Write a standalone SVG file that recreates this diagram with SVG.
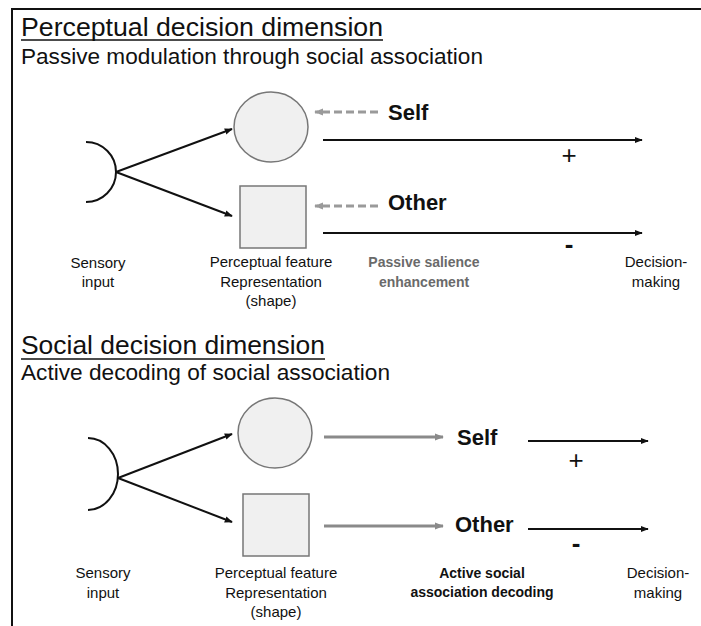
<svg xmlns="http://www.w3.org/2000/svg" width="701" height="626" viewBox="0 0 701 626">
<style>
text{font-family:"Liberation Sans",Arial,sans-serif;fill:#111}
.title{font-size:26.5px}
.sub{font-size:22.5px}
.lbl{font-size:15px;text-anchor:middle}
.bold{font-weight:bold}
.big{font-size:22px;font-weight:bold}
.sign{font-size:26px;text-anchor:middle}
.shape{fill:#f0f0f0;stroke:#777;stroke-width:1.5}
.blk{stroke:#111;stroke-width:2;fill:none}
.gray{stroke:#8a8a8a;stroke-width:3;fill:none}
.dash{stroke:#9a9a9a;stroke-width:3;stroke-dasharray:8,4;fill:none}
</style>
<defs>
<marker id="ab" viewBox="0 0 10 10" refX="9" refY="5" markerWidth="4" markerHeight="4" orient="auto" markerUnits="strokeWidth"><path d="M0,1 L10,5 L0,9 z" fill="#111"/></marker>
<marker id="ag" viewBox="0 0 10 10" refX="9" refY="5" markerWidth="3" markerHeight="3" orient="auto" markerUnits="strokeWidth"><path d="M0,1 L10,5 L0,9 z" fill="#8a8a8a"/></marker>
<marker id="ad" viewBox="0 0 10 10" refX="9" refY="5" markerWidth="3" markerHeight="3" orient="auto" markerUnits="strokeWidth"><path d="M0,1 L10,5 L0,9 z" fill="#9a9a9a"/></marker>
</defs>
<rect width="701" height="626" fill="#fff"/>
<path d="M12,626 V9 H701" stroke="#111" stroke-width="2" fill="none"/>

<g id="section1-titles">
<text class="title" x="21" y="36" textLength="362" lengthAdjust="spacingAndGlyphs">Perceptual decision dimension</text>
<line x1="21" y1="40" x2="383" y2="40" stroke="#111" stroke-width="1.5"/>
<text class="sub" x="21" y="64" textLength="462" lengthAdjust="spacingAndGlyphs">Passive modulation through social association</text>
</g>

<g id="s1-sensory"><path class="blk" d="M86,142 A30,30 0 0 1 86,202"/>
<text class="lbl" x="98" y="268">Sensory</text><text class="lbl" x="98" y="287">input</text></g>
<g id="s1-circle"><ellipse class="shape" cx="271" cy="127" rx="37" ry="35"/></g>
<g id="s1-square"><rect class="shape" x="240" y="186" width="66" height="62"/></g>
<g id="s1-feature-label"><text class="lbl" x="271" y="267">Perceptual feature</text><text class="lbl" x="271" y="287">Representation</text><text class="lbl" x="271" y="306">(shape)</text></g>
<g id="s1-self"><text class="big" x="388" y="120">Self</text></g>
<g id="s1-other"><text class="big" x="388" y="210">Other</text></g>
<g id="s1-passive"><text class="lbl bold" x="424" y="267" style="fill:#6a6a6a;font-size:14px">Passive salience</text><text class="lbl bold" x="424" y="287" style="fill:#6a6a6a;font-size:14px">enhancement</text></g>
<g id="s1-decision"><text class="lbl" x="656" y="267">Decision-</text><text class="lbl" x="656" y="287">making</text></g>
<g id="s1-signs"><text class="sign" x="569" y="164">+</text><text class="sign bold" x="569" y="253">-</text></g>

<g id="section2-titles">
<text class="title" x="21" y="354" textLength="304" lengthAdjust="spacingAndGlyphs">Social decision dimension</text>
<line x1="21" y1="359" x2="325" y2="359" stroke="#111" stroke-width="1.5"/>
<text class="sub" x="21" y="380" textLength="369" lengthAdjust="spacingAndGlyphs">Active decoding of social association</text>
</g>

<g id="s2-sensory"><path class="blk" d="M88,438 A30,36 0 0 1 88,510"/>
<text class="lbl" x="103" y="578">Sensory</text><text class="lbl" x="103" y="598">input</text></g>
<g id="s2-circle"><ellipse class="shape" cx="275" cy="433" rx="37" ry="35"/></g>
<g id="s2-square"><rect class="shape" x="243" y="494" width="66" height="62"/></g>
<g id="s2-feature-label"><text class="lbl" x="276" y="578">Perceptual feature</text><text class="lbl" x="276" y="598">Representation</text><text class="lbl" x="276" y="617">(shape)</text></g>
<g id="s2-self"><text class="big" x="457" y="445">Self</text></g>
<g id="s2-other"><text class="big" x="455" y="532">Other</text></g>
<g id="s2-active"><text class="lbl bold" x="482" y="578" style="font-size:14px">Active social</text><text class="lbl bold" x="482" y="597" style="font-size:14px">association decoding</text></g>
<g id="s2-decision"><text class="lbl" x="658" y="578">Decision-</text><text class="lbl" x="658" y="598">making</text></g>
<g id="s2-signs"><text class="sign" x="576" y="469">+</text><text class="sign bold" x="576" y="552">-</text></g>

<g id="connectors">
<line class="blk" x1="116" y1="172" x2="232" y2="129" marker-end="url(#ab)"/>
<line class="blk" x1="116" y1="172" x2="232" y2="216" marker-end="url(#ab)"/>
<line class="dash" x1="378" y1="112" x2="315" y2="112" marker-end="url(#ad)"/>
<line class="dash" x1="378" y1="206" x2="315" y2="206" marker-end="url(#ad)"/>
<line class="blk" x1="323" y1="140" x2="642" y2="140" marker-end="url(#ab)"/>
<line class="blk" x1="323" y1="233" x2="642" y2="233" marker-end="url(#ab)"/>

<line class="blk" x1="118" y1="478" x2="232" y2="434" marker-end="url(#ab)"/>
<line class="blk" x1="118" y1="478" x2="232" y2="522" marker-end="url(#ab)"/>
<line class="gray" x1="324" y1="437" x2="443" y2="437" marker-end="url(#ag)"/>
<line class="gray" x1="324" y1="526" x2="443" y2="526" marker-end="url(#ag)"/>
<line class="blk" x1="528" y1="441" x2="648" y2="441" marker-end="url(#ab)"/>
<line class="blk" x1="528" y1="529" x2="648" y2="529" marker-end="url(#ab)"/>
</g>
</svg>
